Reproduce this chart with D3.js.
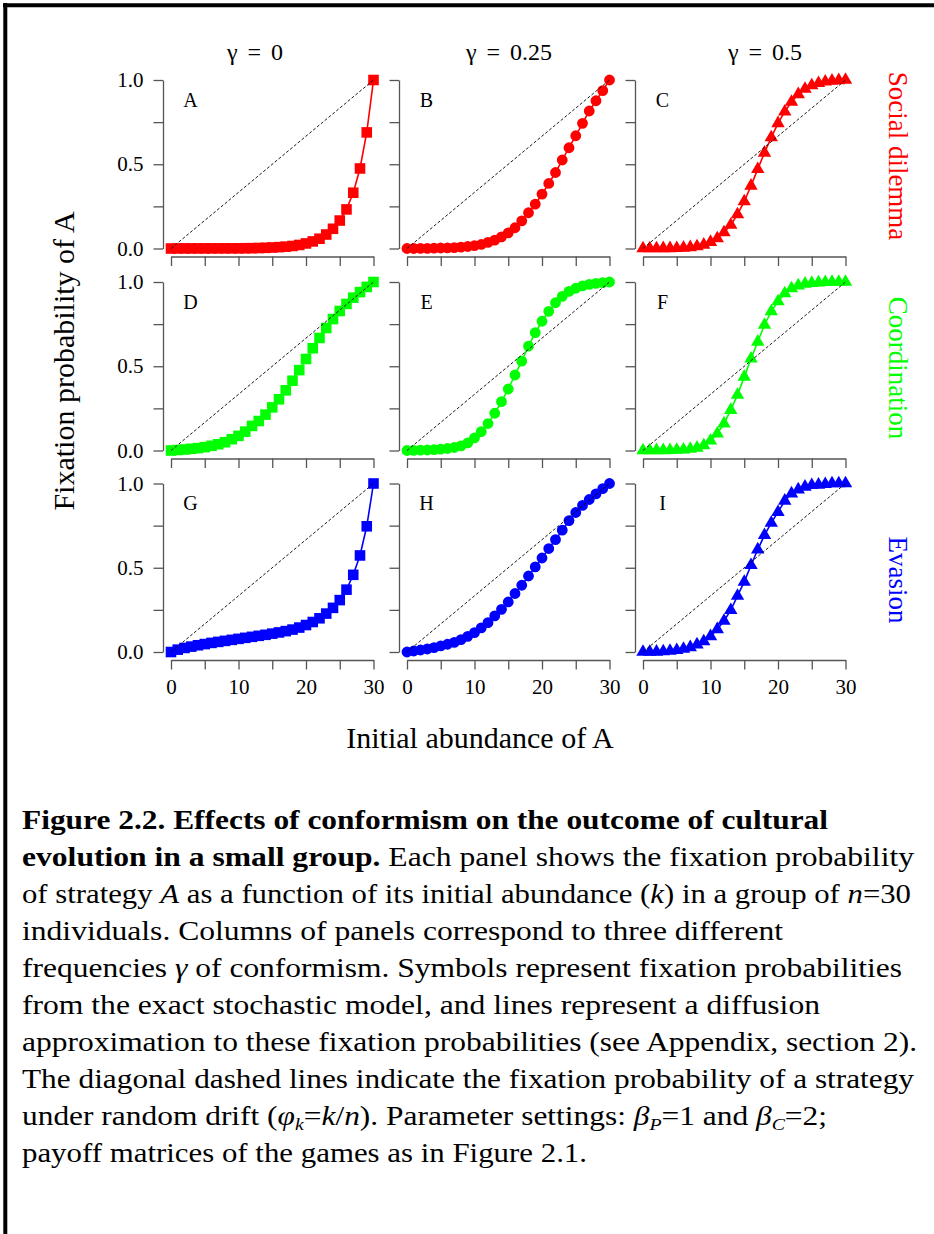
<!DOCTYPE html>
<html>
<head>
<meta charset="utf-8">
<script src="https://cdn.jsdelivr.net/npm/d3@7"></script>
<style>
  body { margin: 0; background: #fff; }
  svg { display: block; }
</style>
</head>
<body>
<div id="chart"></div>
<script>
// ---- data ----
const abundance = [0, 1, 2, 3, 4, 5, 6, 7, 8, 9, 10, 11, 12, 13, 14, 15,
                   16, 17, 18, 19, 20, 21, 22, 23, 24, 25, 26, 27, 28, 29, 30];

const gammaValues = ["0", "0.25", "0.5"];
const gameNames = ["Social dilemma", "Coordination", "Evasion"];
const panelLetters = [["A", "B", "C"], ["D", "E", "F"], ["G", "H", "I"]];

// fixation probability, one array per panel (row = game, column = gamma)
const socialG0 = [0, 0.0005, 0.0005, 0.0005, 0.0006, 0.0006, 0.0007, 0.0008, 0.0009, 0.001, 0.001,
                  0.0015, 0.002, 0.003, 0.004, 0.006, 0.008, 0.011, 0.015, 0.021, 0.03,
                  0.042, 0.058, 0.083, 0.117, 0.166, 0.232, 0.331, 0.475, 0.689, 1];
const socialG25 = [0, 0, 0.001, 0.001, 0.002, 0.003, 0.004, 0.005, 0.008, 0.012, 0.017,
                   0.024, 0.036, 0.05, 0.069, 0.093, 0.123, 0.164, 0.212, 0.263, 0.323,
                   0.386, 0.451, 0.525, 0.598, 0.669, 0.743, 0.816, 0.877, 0.937, 1];
const socialG50 = [0, 0, 0, 0.001, 0.001, 0.002, 0.004, 0.007, 0.012, 0.022, 0.038,
                   0.06, 0.095, 0.14, 0.202, 0.279, 0.372, 0.471, 0.568, 0.659, 0.743,
                   0.812, 0.87, 0.915, 0.947, 0.968, 0.981, 0.99, 0.995, 0.998, 1];

const coordG0 = [0, 0.003, 0.006, 0.01, 0.014, 0.02, 0.028, 0.037, 0.049, 0.067, 0.087,
                 0.112, 0.146, 0.175, 0.213, 0.256, 0.304, 0.357, 0.414, 0.477, 0.543,
                 0.607, 0.668, 0.727, 0.78, 0.828, 0.87, 0.907, 0.94, 0.971, 1];
const coordG25 = [0, 0.001, 0.002, 0.003, 0.005, 0.008, 0.012, 0.018, 0.027, 0.045, 0.075,
                  0.112, 0.16, 0.221, 0.29, 0.365, 0.448, 0.53, 0.619, 0.7, 0.767,
                  0.826, 0.877, 0.915, 0.944, 0.963, 0.977, 0.986, 0.992, 0.996, 1];
const coordG50 = [0, 0, 0.001, 0.001, 0.002, 0.003, 0.005, 0.009, 0.016, 0.03, 0.058,
                  0.1, 0.16, 0.24, 0.33, 0.437, 0.545, 0.645, 0.745, 0.825, 0.885,
                  0.932, 0.962, 0.979, 0.989, 0.994, 0.997, 0.999, 1, 1, 1];

const evasionG0 = [0, 0.014, 0.024, 0.032, 0.04, 0.047, 0.054, 0.06, 0.066, 0.072, 0.078,
                   0.084, 0.09, 0.096, 0.102, 0.109, 0.116, 0.124, 0.133, 0.145, 0.16,
                   0.178, 0.2, 0.228, 0.262, 0.308, 0.37, 0.458, 0.573, 0.746, 1];
const evasionG25 = [0, 0.006, 0.012, 0.018, 0.026, 0.036, 0.046, 0.057, 0.073, 0.093, 0.115,
                    0.143, 0.174, 0.214, 0.253, 0.297, 0.347, 0.396, 0.451, 0.505, 0.558,
                    0.614, 0.667, 0.723, 0.78, 0.828, 0.87, 0.905, 0.938, 0.97, 1];
const evasionG50 = [0, 0, 0.001, 0.003, 0.006, 0.011, 0.018, 0.028, 0.044, 0.063, 0.093,
                    0.135, 0.184, 0.248, 0.333, 0.416, 0.515, 0.608, 0.693, 0.766, 0.83,
                    0.897, 0.94, 0.964, 0.98, 0.99, 0.992, 0.996, 1, 1, 1];

const panels = [
    [socialG0, socialG25, socialG50],
    [coordG0, coordG25, coordG50],
    [evasionG0, evasionG25, evasionG50]
];

const yTicks = [0, 0.25, 0.5, 0.75, 1];
const yLabelled = [0, 0.5, 1];
const xTicks = [0, 5, 10, 15, 20, 25, 30];
const xLabelled = [0, 10, 20, 30];

// caption: each line is a list of [text, style]; b = bold, i = italic, s = italic subscript
const captionLines = [
    [["Figure 2.2. Effects of conformism on the outcome of cultural", "b"]],
    [["evolution in a small group.", "b"], [" Each panel shows the fixation probability", ""]],
    [["of strategy ", ""], ["A", "i"], [" as a function of its initial abundance (", ""], ["k", "i"],
     [") in a group of ", ""], ["n", "i"], ["=30", ""]],
    [["individuals. Columns of panels correspond to three different", ""]],
    [["frequencies ", ""], ["γ", "i"], [" of conformism. Symbols represent fixation probabilities", ""]],
    [["from the exact stochastic model, and lines represent a diffusion", ""]],
    [["approximation to these fixation probabilities (see Appendix, section 2).", ""]],
    [["The diagonal dashed lines indicate the fixation probability of a strategy", ""]],
    [["under random drift (", ""], ["φ", "i"], ["k", "s"], ["=", ""], ["k", "i"], ["/", ""], ["n", "i"],
     ["). Parameter settings: ", ""], ["β", "i"], ["P", "s"], ["=1 and ", ""], ["β", "i"], ["C", "s"], ["=2;", ""]],
    [["payoff matrices of the games as in Figure 2.1.", ""]]
];

// ---- layout ----
const WIDTH = 934;
const HEIGHT = 1234;
const SERIF = "'Liberation Serif', 'Times New Roman', Times, serif";
const COL_LEFT = [171, 407, 643];
const ROW_TOP = [80, 282, 483.5];
const PANEL_W = 202.5;
const PANEL_H = 168.5;
const AXIS_GAP = 8;
const TICK = 9.5;
const AXIS_COLOR = "#555";
const GAME_COLORS = ["#ff0000", "#00ff00", "#0000ff"];
const SHAPES = [d3.symbolSquare, d3.symbolCircle, d3.symbolTriangle];
const SHAPE_SIZE = [112, 92, 78];
const TITLE_X = [255, 509, 765];
const ROW_LABEL_Y = [156, 368, 580];
const CAPTION_RIGHT = [828, 914, 911, 783, 902, 820, 917, 914, 827, 587];

const svg = d3.select("#chart")
              .append("svg")
              .attr("width", WIDTH)
              .attr("height", HEIGHT)
              .style("font-family", SERIF);

svg.append("rect").attr("width", WIDTH).attr("height", HEIGHT).attr("fill", "#fff");

// frame (top and left edges only)
svg.append("line").attr("x1", 3).attr("x2", WIDTH).attr("y1", 5.3).attr("y2", 5.3)
   .attr("stroke", "#000").attr("stroke-width", 4);
svg.append("line").attr("x1", 5.3).attr("x2", 5.3).attr("y1", 3).attr("y2", HEIGHT)
   .attr("stroke", "#000").attr("stroke-width", 4);

panels.forEach((row, r) => {
    row.forEach((values, c) => {
        const x = d3.scaleLinear().domain([0, 30]).range([COL_LEFT[c], COL_LEFT[c] + PANEL_W]);
        const y = d3.scaleLinear().domain([0, 1]).range([ROW_TOP[r] + PANEL_H, ROW_TOP[r]]);
        const g = svg.append("g").attr("class", "panel");

        let yAxis = d3.axisLeft(y)
                      .tickValues(yTicks)
                      .tickSize(TICK)
                      .tickSizeOuter(0)
                      .tickPadding(10)
                      .tickFormat(d => (c === 0 && yLabelled.includes(d)) ? d3.format(".1f")(d) : "");
        g.append("g")
         .attr("transform", "translate(" + (COL_LEFT[c] - AXIS_GAP) + ",0)")
         .call(yAxis);

        let xAxis = d3.axisBottom(x)
                      .tickValues(xTicks)
                      .tickSize(TICK)
                      .tickSizeOuter(0)
                      .tickPadding(10)
                      .tickFormat(d => (r === 2 && xLabelled.includes(d)) ? d : "");
        g.append("g")
         .attr("transform", "translate(0," + (ROW_TOP[r] + PANEL_H + AXIS_GAP) + ")")
         .call(xAxis);

        g.selectAll(".domain, .tick line")
         .attr("stroke", AXIS_COLOR)
         .attr("stroke-width", 1.3);
        g.selectAll(".tick text")
         .style("font-family", SERIF)
         .attr("font-size", 21)
         .attr("fill", "#000");

        // diffusion approximation line
        let line = d3.line()
                     .x((d, i) => x(abundance[i]))
                     .y(d => y(d));
        g.append("path")
         .datum(values)
         .attr("d", line)
         .attr("fill", "none")
         .attr("stroke", GAME_COLORS[r])
         .attr("stroke-width", 1.6);

        // exact model symbols
        g.selectAll(".pt")
         .data(values)
         .enter()
         .append("path")
         .attr("class", "pt")
         .attr("d", d3.symbol().type(SHAPES[c]).size(SHAPE_SIZE[c]))
         .attr("transform", (d, i) => "translate(" + x(abundance[i]) + "," + y(d) + ")")
         .attr("fill", GAME_COLORS[r]);

        // random drift diagonal
        g.append("line")
         .attr("x1", x(0)).attr("y1", y(0))
         .attr("x2", x(30)).attr("y2", y(1))
         .attr("stroke", "#000")
         .attr("stroke-width", 0.9)
         .attr("stroke-dasharray", "3,2");

        g.append("text")
         .attr("x", x(0) + 19.5)
         .attr("y", ROW_TOP[r] + 26.5)
         .attr("text-anchor", "middle")
         .attr("font-size", 20)
         .text(panelLetters[r][c]);
    });
});

// column titles: gamma = value, with wide spacing around the equals sign
let titles = svg.selectAll(".col-title")
   .data(gammaValues)
   .enter()
   .append("text")
   .attr("class", "col-title")
   .attr("x", (d, i) => TITLE_X[i])
   .attr("y", 60)
   .attr("text-anchor", "middle")
   .attr("font-size", 24);
titles.append("tspan").text("γ");
titles.append("tspan").attr("dx", 10).text("=");
titles.append("tspan").attr("dx", 10).text(d => d);

// row labels on the right
svg.selectAll(".row-title")
   .data(gameNames)
   .enter()
   .append("text")
   .attr("class", "row-title")
   .attr("transform", (d, i) => "translate(889," + ROW_LABEL_Y[i] + ") rotate(90)")
   .attr("text-anchor", "middle")
   .attr("font-size", 27)
   .attr("fill", (d, i) => GAME_COLORS[i])
   .text(d => d);

// axis titles
svg.append("text")
   .attr("transform", "translate(74,361) rotate(-90)")
   .attr("text-anchor", "middle")
   .attr("font-size", 30)
   .text("Fixation probability of A");

svg.append("text")
   .attr("x", 480)
   .attr("y", 748)
   .attr("text-anchor", "middle")
   .attr("font-size", 30)
   .text("Initial abundance of A");

// caption
const CAP_X = 22;
const CAP_Y0 = 829;
const CAP_STEP = 37;
captionLines.forEach((segs, li) => {
    let t = svg.append("text")
               .attr("x", CAP_X)
               .attr("y", CAP_Y0 + li * CAP_STEP)
               .attr("font-size", 27)
               .attr("fill", "#000");
    let shifted = false;
    segs.forEach(([txt, style]) => {
        let s = t.append("tspan").text(txt);
        if (style === "b") s.attr("font-weight", "bold");
        if (style === "i" || style === "s") s.attr("font-style", "italic");
        if (style === "s") {
            s.attr("font-size", 17).attr("dy", 5);
            shifted = true;
        } else if (shifted) {
            s.attr("dy", -5);
            shifted = false;
        }
    });
    let natural = t.node().getComputedTextLength();
    let target = CAPTION_RIGHT[li] - CAP_X;
    if (Math.abs(natural - target) > 2) {
        t.attr("textLength", target).attr("lengthAdjust", "spacingAndGlyphs");
    }
});
</script>
</body>
</html>
